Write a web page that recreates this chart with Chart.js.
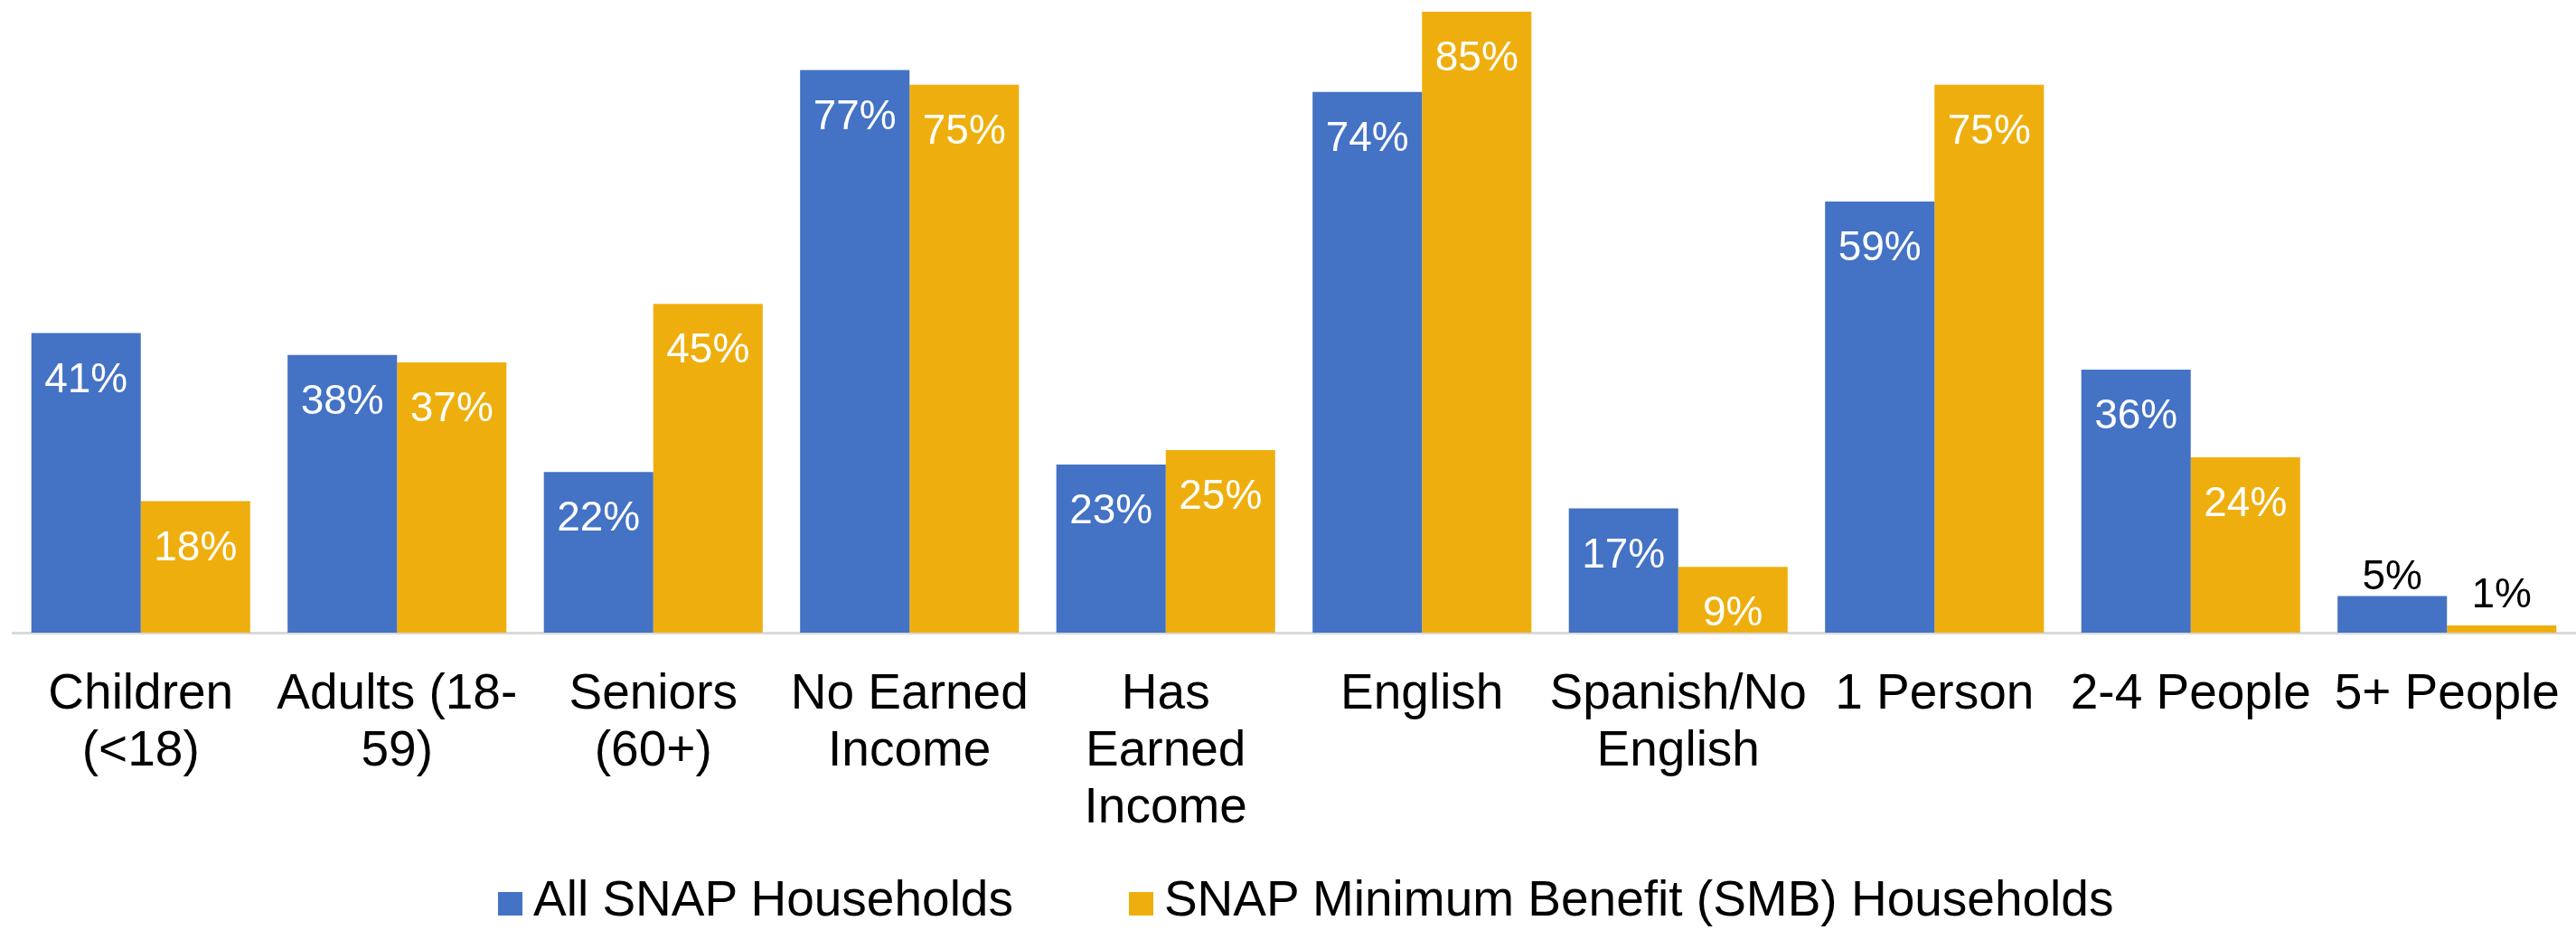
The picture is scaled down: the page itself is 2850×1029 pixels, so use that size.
<!DOCTYPE html>
<html>
<head>
<meta charset="utf-8">
<script src="https://cdn.jsdelivr.net/npm/chart.js@4.4.1/dist/chart.umd.min.js"></script>
<style>
  html, body { margin: 0; padding: 0; background: #fff; }
  #wrap { position: relative; width: 2850px; height: 1029px; }
  #legend {
    position: absolute; left: 551px; top: 967px;
    display: flex; white-space: nowrap; color: #000;
    font: 55px "Liberation Sans", Arial, sans-serif; line-height: 55px;
  }
  .item { display: flex; align-items: flex-start; margin-right: 128px; }
  .swatch { width: 27px; height: 26px; margin-top: 20px; margin-right: 12px; }
</style>
</head>
<body>
<div id="wrap">
  <canvas id="chart" width="2850" height="1029"></canvas>
  <div id="legend"></div>
</div>
<script>
"use strict";

// -- Data -----------------------------------------------------------------
const categories = [
  ["Children", "(<18)"],
  ["Adults (18-", "59)"],
  ["Seniors", "(60+)"],
  ["No Earned", "Income"],
  ["Has", "Earned", "Income"],
  "English",
  ["Spanish/No", "English"],
  "1 Person",
  "2-4 People",
  "5+ People",
];
const allSnap = [41, 38, 22, 77, 23, 74, 17, 59, 36, 5];
const smbSnap = [18, 37, 45, 75, 25, 85, 9, 75, 24, 1];
const seriesNames = ["All SNAP Households", "SNAP Minimum Benefit (SMB) Households"];
const seriesColors = ["#4472C4", "#EEAF0E"];

const FONT = '"Liberation Sans", Arial, sans-serif';

// -- Value labels (inside end, or above very short bars) -------------------
const barLabels = {
  id: "barLabels",
  afterDatasetsDraw(chart) {
    const { ctx } = chart;
    ctx.save();
    ctx.font = `46px ${FONT}`;
    ctx.textAlign = "center";
    ctx.textBaseline = "alphabetic";
    chart.data.datasets.forEach((ds, i) => {
      chart.getDatasetMeta(i).data.forEach((bar, j) => {
        const v = ds.data[j];
        const txt = v + "%";
        if (v < 8) {
          ctx.fillStyle = "#000";
          ctx.fillText(txt, bar.x, Math.min(bar.y, bar.base - 20) - 8);
        } else {
          ctx.fillStyle = "#fff";
          ctx.fillText(txt, bar.x, bar.y + 65);
        }
      });
    });
    ctx.restore();
  },
};

const dataset = (label, data, color) => ({
  label, data,
  backgroundColor: color,
  borderWidth: 0,
  categoryPercentage: 0.854,
  barPercentage: 1,
});

new Chart(document.getElementById("chart"), {
  type: "bar",
  data: {
    labels: categories,
    datasets: [
      dataset(seriesNames[0], allSnap, seriesColors[0]),
      dataset(seriesNames[1], smbSnap, seriesColors[1]),
    ],
  },
  options: {
    responsive: false,
    animation: false,
    devicePixelRatio: 1,
    layout: { padding: { left: 14, right: 1, top: 0, bottom: 0 } },
    plugins: { legend: { display: false }, tooltip: { enabled: false } },
    scales: {
      x: {
        grid: { display: true, drawOnChartArea: false, drawTicks: false },
        border: { display: true, color: "#d9d9d9", width: 3 },
        ticks: {
          color: "#000",
          font: { family: FONT, size: 55, lineHeight: 1.145 },
          padding: 37,
          maxRotation: 0,
          autoSkip: false,
        },
        afterFit: s => { s.height = 329; s.paddingLeft = 0; s.paddingRight = 0; },
      },
      y: { display: false, min: 0, max: 86.6 },
    },
  },
  plugins: [barLabels],
});

// -- Legend ----------------------------------------------------------------
const legend = document.getElementById("legend");
seriesNames.forEach((name, i) => {
  const item = document.createElement("div");
  item.className = "item";
  item.innerHTML = `<span class="swatch" style="background:${seriesColors[i]}"></span><span>${name}</span>`;
  legend.appendChild(item);
});
</script>
</body>
</html>
